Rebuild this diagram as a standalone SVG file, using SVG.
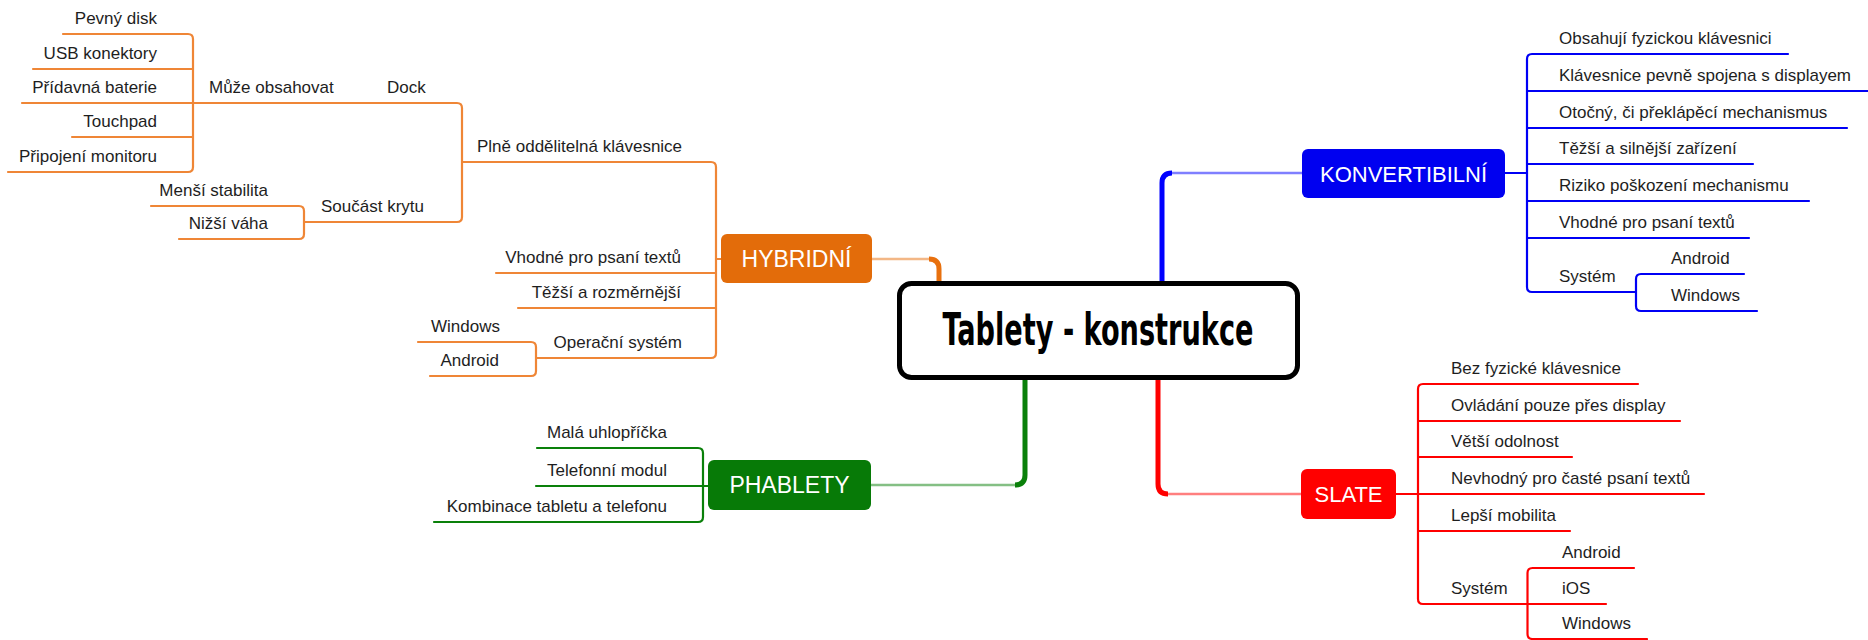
<svg xmlns="http://www.w3.org/2000/svg" width="1868" height="640" viewBox="0 0 1868 640">
<style>
.t{font-family:"Liberation Sans",Arial,sans-serif;font-size:17px;fill:#1e1e1e}
.e{text-anchor:end}
.nl{font-family:"Liberation Sans",Arial,sans-serif;font-size:23px;fill:#ffffff;text-anchor:middle}
.ln{fill:none;stroke-width:2.2;stroke-linecap:round;stroke-linejoin:round}
.o{stroke:#EF8636}
.b{stroke:#0000F5}
.r{stroke:#FF0000}
.g{stroke:#0A800A}
.thick{fill:none;stroke-width:5;stroke-linecap:butt}
.thin{fill:none;stroke-width:2.5;opacity:0.5}
</style>
<rect width="1868" height="640" fill="#ffffff"/>

<g id="connectors">
  <!-- main branches from the central topic -->
  <path class="thick" stroke="#E8700E" d="M939,283 V269 Q939,259 929,259"/>
  <path class="thin" stroke="#E8700E" d="M929,259 H872"/>
  <path class="thick" stroke="#0000FF" d="M1162,283 V183 Q1162,173 1172,173"/>
  <path class="thin" stroke="#0000FF" d="M1172,173 H1302"/>
  <path class="thick" stroke="#0A800A" d="M1025,378 V475 Q1025,485 1015,485"/>
  <path class="thin" stroke="#0A800A" d="M1015,485 H871"/>
  <path class="thick" stroke="#FF0000" d="M1158,378 V484 Q1158,494 1168,494"/>
  <path class="thin" stroke="#FF0000" d="M1168,494 H1301"/>

  <!-- HYBRIDNÍ subtree -->
  <path class="ln o" d="M63,34 H188 Q193,34 193,39 V167 Q193,172 188,172 H8"/>
  <path class="ln o" d="M33,69 H193"/>
  <path class="ln o" d="M72,137 H193"/>
  <path class="ln o" d="M22,103 H457 Q462,103 462,108 V217 Q462,222 457,222 H304"/>
  <path class="ln o" d="M151,206 H299 Q304,206 304,211 V234 Q304,239 299,239 H179"/>
  <path class="ln o" d="M462,162 H711 Q716,162 716,167 V353 Q716,358 711,358 H536"/>
  <path class="ln o" d="M496,273 H716"/>
  <path class="ln o" d="M518,308 H716"/>
  <path class="ln o" d="M716,259 H721"/>
  <path class="ln o" d="M418,342 H531 Q536,342 536,347 V371 Q536,376 531,376 H430"/>

  <!-- PHABLETY subtree -->
  <path class="ln g" d="M537,448 H698 Q703,448 703,453 V517 Q703,522 698,522 H434"/>
  <path class="ln g" d="M536,486 H708"/>

  <!-- KONVERTIBILNÍ subtree -->
  <path class="ln b" d="M1788,54 H1532 Q1527,54 1527,59 V287 Q1527,292 1532,292 H1636"/>
  <path class="ln b" d="M1744,274 H1641 Q1636,274 1636,279 V306 Q1636,311 1641,311 H1757"/>
  <path class="ln b" d="M1527,91 H1868"/>
  <path class="ln b" d="M1527,128 H1847"/>
  <path class="ln b" d="M1527,164 H1753"/>
  <path class="ln b" d="M1527,201 H1809"/>
  <path class="ln b" d="M1527,238 H1749"/>
  <path class="ln b" d="M1505,173 H1527"/>

  <!-- SLATE subtree -->
  <path class="ln r" d="M1638,384 H1423 Q1418,384 1418,389 V599 Q1418,604 1423,604 H1606"/>
  <path class="ln r" d="M1634,568 H1532.5 Q1527.5,568 1527.5,573 V634 Q1527.5,639 1532.5,639 H1647"/>
  <path class="ln r" d="M1418,421 H1680"/>
  <path class="ln r" d="M1418,457 H1572"/>
  <path class="ln r" d="M1396,494 H1704"/>
  <path class="ln r" d="M1418,531 H1570"/>
</g>

<g id="central">
  <rect x="899.5" y="283.5" width="398" height="94" rx="12" fill="#ffffff" stroke="#000000" stroke-width="5"/>
  <text x="1098" y="345" text-anchor="middle" textLength="311" lengthAdjust="spacingAndGlyphs" style="font-family:Impact,'DejaVu Sans Condensed','Liberation Sans',sans-serif;font-weight:bold;font-size:44px;fill:#000000">Tablety - konstrukce</text>
</g>

<g id="hybridni">
  <rect x="721" y="234" width="151" height="49" rx="6" fill="#E36C0A"/>
  <text class="nl" x="796.5" y="267">HYBRIDNÍ</text>
</g>
<g id="phablety">
  <rect x="708" y="460" width="163" height="50" rx="6" fill="#077A07"/>
  <text class="nl" x="789.5" y="493">PHABLETY</text>
</g>
<g id="konvertibilni">
  <rect x="1302" y="149" width="203" height="49" rx="6" fill="#0000F0"/>
  <text class="nl" x="1403.5" y="181.5" style="font-size:22px">KONVERTIBILNÍ</text>
</g>
<g id="slate">
  <rect x="1301" y="469" width="95" height="50" rx="6" fill="#FF0000"/>
  <text class="nl" x="1348.5" y="502" style="font-size:22px">SLATE</text>
</g>

<g id="hybridni-topics">
  <text class="t e" x="157" y="24">Pevný disk</text>
  <text class="t e" x="157" y="59">USB konektory</text>
  <text class="t e" x="157" y="93">Přídavná baterie</text>
  <text class="t e" x="157" y="127">Touchpad</text>
  <text class="t e" x="157" y="162">Připojení monitoru</text>
  <text class="t" x="209" y="93">Může obsahovat</text>
  <text class="t" x="387" y="93">Dock</text>
  <text class="t e" x="268" y="196">Menší stabilita</text>
  <text class="t e" x="268" y="229">Nižší váha</text>
  <text class="t" x="321" y="212">Součást krytu</text>
  <text class="t" x="477" y="152">Plně oddělitelná klávesnice</text>
  <text class="t e" x="681" y="263">Vhodné pro psaní textů</text>
  <text class="t e" x="681" y="298">Těžší a rozměrnější</text>
  <text class="t e" x="682" y="348">Operační systém</text>
  <text class="t e" x="500" y="332">Windows</text>
  <text class="t e" x="499" y="366">Android</text>
</g>

<g id="phablety-topics">
  <text class="t e" x="667" y="438">Malá uhlopříčka</text>
  <text class="t e" x="667" y="476">Telefonní modul</text>
  <text class="t e" x="667" y="512">Kombinace tabletu a telefonu</text>
</g>

<g id="konvertibilni-topics">
  <text class="t" x="1559" y="44">Obsahují fyzickou klávesnici</text>
  <text class="t" x="1559" y="81">Klávesnice pevně spojena s displayem</text>
  <text class="t" x="1559" y="118">Otočný, či překlápěcí mechanismus</text>
  <text class="t" x="1559" y="154">Těžší a silnější zařízení</text>
  <text class="t" x="1559" y="191">Riziko poškození mechanismu</text>
  <text class="t" x="1559" y="228">Vhodné pro psaní textů</text>
  <text class="t" x="1559" y="282">Systém</text>
  <text class="t" x="1671" y="264">Android</text>
  <text class="t" x="1671" y="301">Windows</text>
</g>

<g id="slate-topics">
  <text class="t" x="1451" y="374">Bez fyzické klávesnice</text>
  <text class="t" x="1451" y="411">Ovládání pouze přes display</text>
  <text class="t" x="1451" y="447">Větší odolnost</text>
  <text class="t" x="1451" y="484">Nevhodný pro časté psaní textů</text>
  <text class="t" x="1451" y="521">Lepší mobilita</text>
  <text class="t" x="1451" y="594">Systém</text>
  <text class="t" x="1562" y="558">Android</text>
  <text class="t" x="1562" y="594">iOS</text>
  <text class="t" x="1562" y="629">Windows</text>
</g>
</svg>
